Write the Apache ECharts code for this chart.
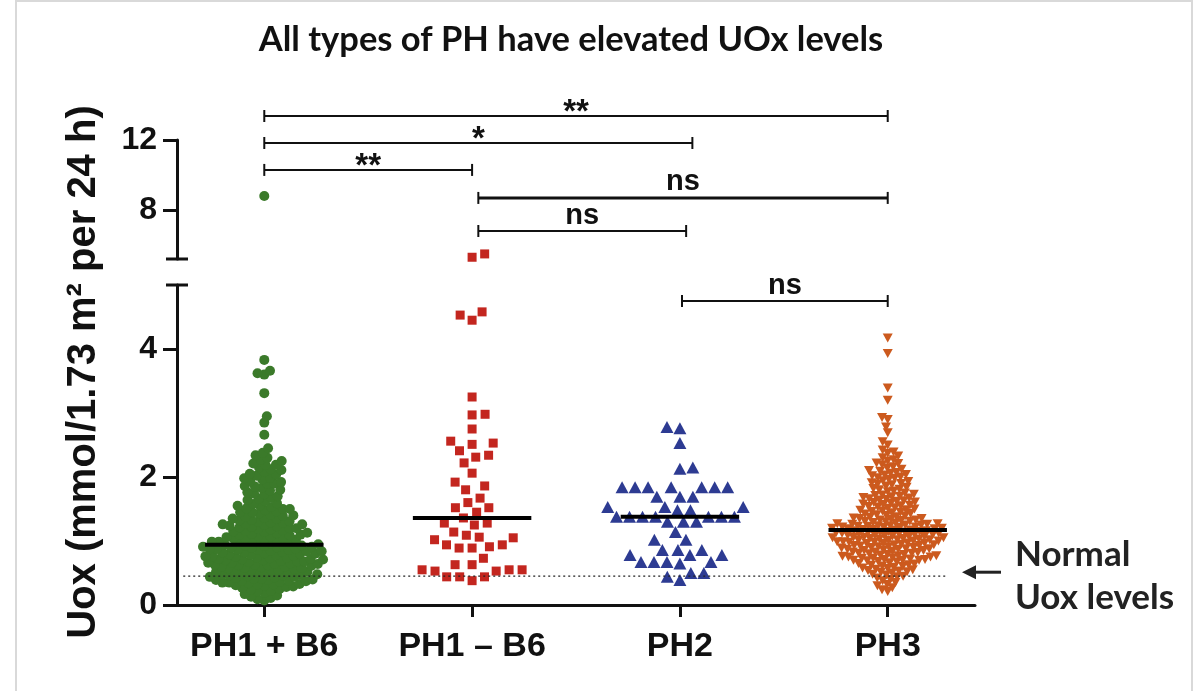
<!DOCTYPE html>
<html><head><meta charset="utf-8">
<script src="https://cdn.jsdelivr.net/npm/echarts@6/dist/echarts.min.js"></script>
<style>html,body{margin:0;padding:0;background:#fff}#c{width:1199px;height:691px}</style>
</head><body><div id="c"></div>
<script>
// ---------- data ----------
const categories = ['PH1 + B6', 'PH1 – B6', 'PH2', 'PH3'];
const ph1WithB6 = [8.8,
3.83,3.66,3.62,3.60,3.31,2.95,2.85,2.66,2.45,2.38,2.34,2.30,2.27,2.25,
2.21,2.19,2.19,2.15,2.12,2.11,2.08,2.05,2.04,2.02,1.99,1.98,1.96,1.93,1.92,1.90,1.89,1.86,1.85,1.83,1.80,1.79,1.76,1.74,1.73,1.70,1.68,1.66,1.64,1.62,
1.59,1.58,1.55,1.55,1.53,1.51,1.50,1.50,1.48,1.46,1.45,1.45,1.43,1.41,1.40,1.39,1.38,1.36,1.35,1.35,1.33,1.32,1.31,1.30,1.29,
1.28,1.27,1.26,1.26,1.25,1.24,1.23,1.22,1.21,1.20,1.20,1.19,1.18,1.17,1.16,1.15,1.14,1.13,1.12,1.11,1.10,1.10,1.09,1.08,1.07,1.06,1.05,1.04,1.04,1.03,1.02,1.01,1.00,0.99,0.99,0.98,0.97,0.97,0.96,0.95,
0.94,0.94,0.93,0.93,0.92,0.91,0.91,0.90,0.90,0.89,0.88,0.88,0.87,0.86,0.86,0.86,0.85,0.84,0.84,0.83,0.82,0.82,0.81,0.80,0.80,0.79,0.78,0.78,0.77,0.76,0.76,0.75,0.74,0.74,0.73,0.72,0.72,0.71,0.71,0.70,0.70,0.69,0.68,0.68,0.67,0.66,0.66,0.65,0.64,0.64,0.63,0.63,0.62,0.62,0.61,0.60,0.60,0.59,0.58,0.58,0.57,0.56,0.55,
0.54,0.53,0.53,0.52,0.52,0.51,0.50,0.50,0.49,0.48,0.47,0.47,0.46,0.46,0.45,0.44,0.44,0.43,0.42,0.41,0.41,0.40,0.39,0.39,0.38,0.38,0.37,0.36,0.35,0.35,0.34,0.33,0.32,0.32,0.31,0.30,0.29,0.28,
0.27,0.25,0.24,0.22,0.21,0.19,0.17,0.15,0.13,0.11,0.09,0.07];
const ph1WithoutB6 = [5.49,5.30,4.58,4.53,4.45,3.25,2.98,2.97,2.75,2.56,2.53,2.51,2.41,2.34,2.31,2.22,2.06,1.92,1.86,1.80,1.67,1.60,1.52,1.52,1.45,1.36,1.28,1.28,1.25,1.14,1.09,1.06,1.05,1.02,0.94,0.94,0.91,0.89,0.89,0.73,0.63,0.63,0.55,0.55,0.55,0.53,0.53,0.44,0.44,0.44,0.38];
const ph2 = [2.78,2.76,2.53,2.15,2.13,1.84,1.84,1.84,1.84,1.84,1.84,1.84,1.69,1.69,1.69,1.53,1.53,1.53,1.48,1.48,1.38,1.38,1.38,1.38,1.38,1.38,1.38,1.30,1.30,1.30,1.14,1.02,1.02,0.86,0.86,0.86,0.78,0.78,0.78,0.67,0.67,0.67,0.67,0.65,0.50,0.50,0.44,0.39];
const ph3 = [4.17,3.93,3.39,3.20,2.93,2.90,2.78,2.69,2.55,2.50,2.42,2.39,2.37,
2.33,2.30,2.27,2.25,2.22,2.21,2.19,2.16,2.14,2.12,2.10,2.09,2.07,2.06,2.04,2.03,2.02,2.00,
1.99,1.98,1.96,1.94,1.93,1.91,1.90,1.89,1.88,1.86,1.84,1.82,1.81,1.80,1.78,1.77,1.75,1.73,1.72,1.71,1.70,1.69,1.68,1.67,1.66,1.65,1.64,1.63,1.62,1.61,1.60,
1.59,1.58,1.57,1.56,1.55,1.54,1.53,1.52,1.51,1.50,1.49,1.48,1.47,1.46,1.45,1.44,1.43,1.42,1.41,1.40,1.39,1.38,1.37,1.36,1.35,1.35,1.34,1.33,1.33,1.32,1.31,1.31,1.30,1.29,1.28,
1.27,1.27,1.26,1.26,1.25,1.25,1.24,1.24,1.23,1.23,1.22,1.22,1.21,1.21,1.20,1.20,1.19,1.19,1.18,1.18,1.17,1.17,1.16,1.16,1.15,1.15,1.14,1.14,1.13,1.13,1.12,1.12,1.11,1.11,1.10,1.10,1.09,1.09,1.08,1.08,1.07,1.07,1.06,1.06,1.05,1.05,1.04,1.04,1.03,1.03,1.02,1.02,1.01,1.01,1.00,1.00,0.99,0.99,0.98,0.98,0.97,0.97,0.96,0.96,0.95,
0.94,0.94,0.93,0.93,0.92,0.91,0.91,0.90,0.90,0.89,0.88,0.88,0.87,0.87,0.86,0.85,0.85,0.84,0.83,0.83,0.82,0.81,0.81,0.80,0.79,0.79,0.78,0.77,0.77,0.76,0.75,0.75,0.74,0.73,0.73,0.72,0.71,0.71,0.70,0.70,0.70,
0.69,0.68,0.67,0.66,0.65,0.64,0.63,0.62,0.61,0.60,0.59,0.58,0.57,0.56,0.55,0.54,0.53,0.52,0.51,0.50,0.48,0.47,0.45,
0.44,0.42,0.40,0.38,0.35,0.32,0.30,0.27,0.24,0.21];
const lowerTicks = [0, 2, 4];
const upperTicks = [8, 12];
const normalUox = 0.45;
// comparisons: from/to in category units, level in axis units of segment (1 = upper, 0 = lower)
const comparisons = [
  { from: 0, to: 3, label: '**', level: 13.37, seg: 1, width: 2 },
  { from: 0, to: 2.06, label: '*', level: 11.83, seg: 1, width: 2 },
  { from: 0, to: 1.0, label: '**', level: 10.29, seg: 1, width: 2 },
  { from: 1.03, to: 3.0, label: 'ns', level: 8.69, seg: 1, width: 3 },
  { from: 1.03, to: 2.03, label: 'ns', level: 6.8, seg: 1, width: 2 },
  { from: 2.01, to: 3.0, label: 'ns', level: 4.75, seg: 0, width: 2 }
];

// ---------- settings ----------
const groups = [
  { name: categories[0], values: ph1WithB6, color: '#3b7a2a', symbol: 'circle', size: 10, rot: 0, d: 6.9 },
  { name: categories[1], values: ph1WithoutB6, color: '#c3261f', symbol: 'rect', size: 9, rot: 0, d: 13 },
  { name: categories[2], values: ph2, color: '#2d3b92', symbol: 'triangle', size: [13, 12], rot: 0, d: 13 },
  { name: categories[3], values: ph3, color: '#cc5a1e', symbol: 'triangle', size: [10, 9], rot: 180, d: 6.0 }
];
const FONT = '"Liberation Sans", Arial, sans-serif';
const SANS2 = 'Lato, "Open Sans", sans-serif';
const X_MIN = -0.42, X_MAX = 3.42;
const BREAK = 5;
const LOWER = { min: 0, max: 5 }, UPPER = { min: 5.2, max: 12 };
const INK = '#111';

const chart = echarts.init(document.getElementById('c'));

function yAxis(gridIndex, rng, ticks) {
  return {
    type: 'value', gridIndex, min: rng.min, max: rng.max,
    axisLine: { show: true, onZero: false, lineStyle: { color: INK, width: 3 } },
    axisTick: { show: true, length: 14, lineStyle: { color: INK, width: 3 }, customValues: ticks },
    axisLabel: { show: true, customValues: ticks, margin: 20, fontFamily: FONT, fontWeight: 'bold', fontSize: 32, color: INK },
    splitLine: { show: false }
  };
}

const base = {
  animation: false,
  backgroundColor: '#fff',
  title: {
    text: 'All types of PH have elevated UOx levels', left: 566, top: 17, textAlign: 'center',
    textStyle: { fontFamily: SANS2, fontWeight: 'bold', fontSize: 34.5, color: '#111' }
  },
  grid: [
    { left: 177, top: 285, width: 798, height: 320, outerBoundsMode: 'none', containLabel: false },
    { left: 177, top: 140, width: 798, height: 119, outerBoundsMode: 'none', containLabel: false }
  ],
  xAxis: [
    {
      type: 'value', gridIndex: 0, min: X_MIN, max: X_MAX,
      axisLine: { show: true, onZero: false, lineStyle: { color: INK, width: 3 } },
      axisTick: { show: true, length: 12, lineStyle: { color: INK, width: 3 }, customValues: [0, 1, 2, 3] },
      axisLabel: { show: true, customValues: [0, 1, 2, 3], formatter: v => categories[Math.round(v)], margin: 25,
        fontFamily: FONT, fontWeight: 'bold', fontSize: 34, color: INK },
      splitLine: { show: false }
    },
    { type: 'value', gridIndex: 1, min: X_MIN, max: X_MAX, show: false, splitLine: { show: false } }
  ],
  yAxis: [yAxis(0, LOWER, lowerTicks), yAxis(1, UPPER, upperTicks)],
  series: []
};
chart.setOption(base);

// ---------- beeswarm layout through the axis scales ----------
function beeswarm(values, catIdx, d) {
  const cx = chart.convertToPixel({ gridIndex: 0 }, [catIdx, 0])[0];
  const pts = values.map(v => {
    const g = v > BREAK ? 1 : 0;
    return { v, g, py: chart.convertToPixel({ gridIndex: g }, [catIdx, v])[1] };
  }).sort((a, b) => b.py - a.py);
  const placed = [];
  let flip = 1;
  pts.forEach(p => {
    const forb = [], cands = [0];
    placed.forEach(q => {
      const dy = Math.abs(q.py - p.py);
      if (dy < d) {
        const dx = Math.sqrt(d * d - dy * dy);
        forb.push([q.px - dx, q.px + dx]);
        cands.push(q.px - dx, q.px + dx);
      }
    });
    let best = null;
    cands.forEach(c => {
      if (forb.some(f => c > f[0] + 1e-6 && c < f[1] - 1e-6)) return;
      if (best === null || Math.abs(c) < Math.abs(best) - 1e-6 ||
          (Math.abs(Math.abs(c) - Math.abs(best)) < 1e-6 && c * flip > 0)) best = c;
    });
    p.px = best; flip = -flip;
    placed.push(p);
  });
  return pts.map(p => ({ g: p.g, value: [chart.convertFromPixel({ gridIndex: p.g }, [cx + p.px, p.py])[0], p.v] }));
}

function median(arr) {
  const s = arr.slice().sort((a, b) => a - b), n = s.length;
  return n % 2 ? s[(n - 1) / 2] : (s[n / 2 - 1] + s[n / 2]) / 2;
}

const series = [];
groups.forEach((gr, i) => {
  const pts = beeswarm(gr.values, i, gr.d);
  [0, 1].forEach(g => {
    series.push({
      type: 'scatter', name: gr.name, xAxisIndex: g, yAxisIndex: g, z: 2,
      symbol: gr.symbol, symbolSize: gr.size, symbolRotate: gr.rot,
      itemStyle: { color: gr.color, opacity: 1 },
      data: pts.filter(p => p.g === g).map(p => p.value), silent: true
    });
  });
});

// median lines
series.push({
  type: 'custom', xAxisIndex: 0, yAxisIndex: 0, z: 5, silent: true,
  data: groups.map((gr, i) => [i, median(gr.values)]),
  renderItem: (params, api) => {
    const a = api.coord([api.value(0) - 0.285, api.value(1)]);
    const b = api.coord([api.value(0) + 0.285, api.value(1)]);
    return { type: 'line', shape: { x1: a[0], y1: a[1], x2: b[0], y2: b[1] }, style: { stroke: '#000', lineWidth: 4 } };
  }
});
// normal level dotted line
series.push({
  type: 'custom', xAxisIndex: 0, yAxisIndex: 0, z: 6, silent: true,
  data: [[-0.39, 3.286, normalUox]],
  renderItem: (params, api) => {
    const a = api.coord([api.value(0), api.value(2)]);
    const b = api.coord([api.value(1), api.value(2)]);
    return { type: 'line', shape: { x1: a[0], y1: a[1], x2: b[0], y2: b[1] }, style: { stroke: '#222', lineWidth: 1.3, lineDash: [2, 3] } };
  }
});
// significance brackets
[0, 1].forEach(seg => {
  const list = comparisons.filter(c => c.seg === seg);
  series.push({
    type: 'custom', xAxisIndex: seg, yAxisIndex: seg, z: 6, silent: true, clip: false,
    data: list.map(c => [c.from, c.to, c.level, c.width]),
    renderItem: (params, api) => {
      const c = list[params.dataIndex];
      const a = api.coord([api.value(0), api.value(2)]);
      const b = api.coord([api.value(1), api.value(2)]);
      const w = api.value(3);
      const star = c.label.indexOf('*') >= 0;
      return {
        type: 'group', children: [
          { type: 'line', shape: { x1: a[0], y1: a[1], x2: b[0], y2: b[1] }, style: { stroke: INK, lineWidth: w } },
          { type: 'line', shape: { x1: a[0], y1: a[1] - 6, x2: a[0], y2: a[1] + 6 }, style: { stroke: INK, lineWidth: 2 } },
          { type: 'line', shape: { x1: b[0], y1: b[1] - 6, x2: b[0], y2: b[1] + 6 }, style: { stroke: INK, lineWidth: 2 } },
          { type: 'text', x: (a[0] + b[0]) / 2, y: a[1] + (star ? 13 : -1),
            style: { text: c.label, textAlign: 'center', textVerticalAlign: 'bottom',
              font: star ? 'bold 33px ' + FONT : 'bold 29px ' + FONT, fill: INK } }
        ]
      };
    }
  });
});

// axis break caps computed from the axis scales
const capLo = chart.convertToPixel({ gridIndex: 0 }, [X_MIN, LOWER.max]);
const capHi = chart.convertToPixel({ gridIndex: 1 }, [X_MIN, UPPER.min]);
const normalPx = chart.convertToPixel({ gridIndex: 0 }, [X_MIN, normalUox]);

chart.setOption({
  series,
  graphic: [
    { type: 'rect', shape: { x: 16, y: 1, width: 1176, height: 720 }, style: { fill: 'none', stroke: '#d9d9d9', lineWidth: 2 }, silent: true },
    { type: 'line', shape: { x1: capLo[0] - 11, y1: capLo[1], x2: capLo[0] + 11, y2: capLo[1] }, style: { stroke: INK, lineWidth: 3 } },
    { type: 'line', shape: { x1: capHi[0] - 11, y1: capHi[1], x2: capHi[0] + 11, y2: capHi[1] }, style: { stroke: INK, lineWidth: 3 } },
    { type: 'text', x: 84, y: 372, rotation: Math.PI / 2,
      style: { text: 'Uox (mmol/1.73 m² per 24 h)', textAlign: 'center', textVerticalAlign: 'middle', font: 'bold 40px ' + FONT, fill: INK } },
    { type: 'line', shape: { x1: 974, y1: normalPx[1] - 4, x2: 1001, y2: normalPx[1] - 4 }, style: { stroke: '#222', lineWidth: 3 } },
    { type: 'polygon', shape: { points: [[962, normalPx[1] - 4], [976, normalPx[1] - 11], [976, normalPx[1] + 3]] }, style: { fill: '#222' } },
    { type: 'text', x: 1015, y: 555, style: { text: 'Normal', textVerticalAlign: 'middle', font: 'bold 35px ' + SANS2, fill: '#222' } },
    { type: 'text', x: 1015, y: 598, style: { text: 'Uox levels', textVerticalAlign: 'middle', font: 'bold 35px ' + SANS2, fill: '#222' } }
  ]
});
</script>
</body></html>
